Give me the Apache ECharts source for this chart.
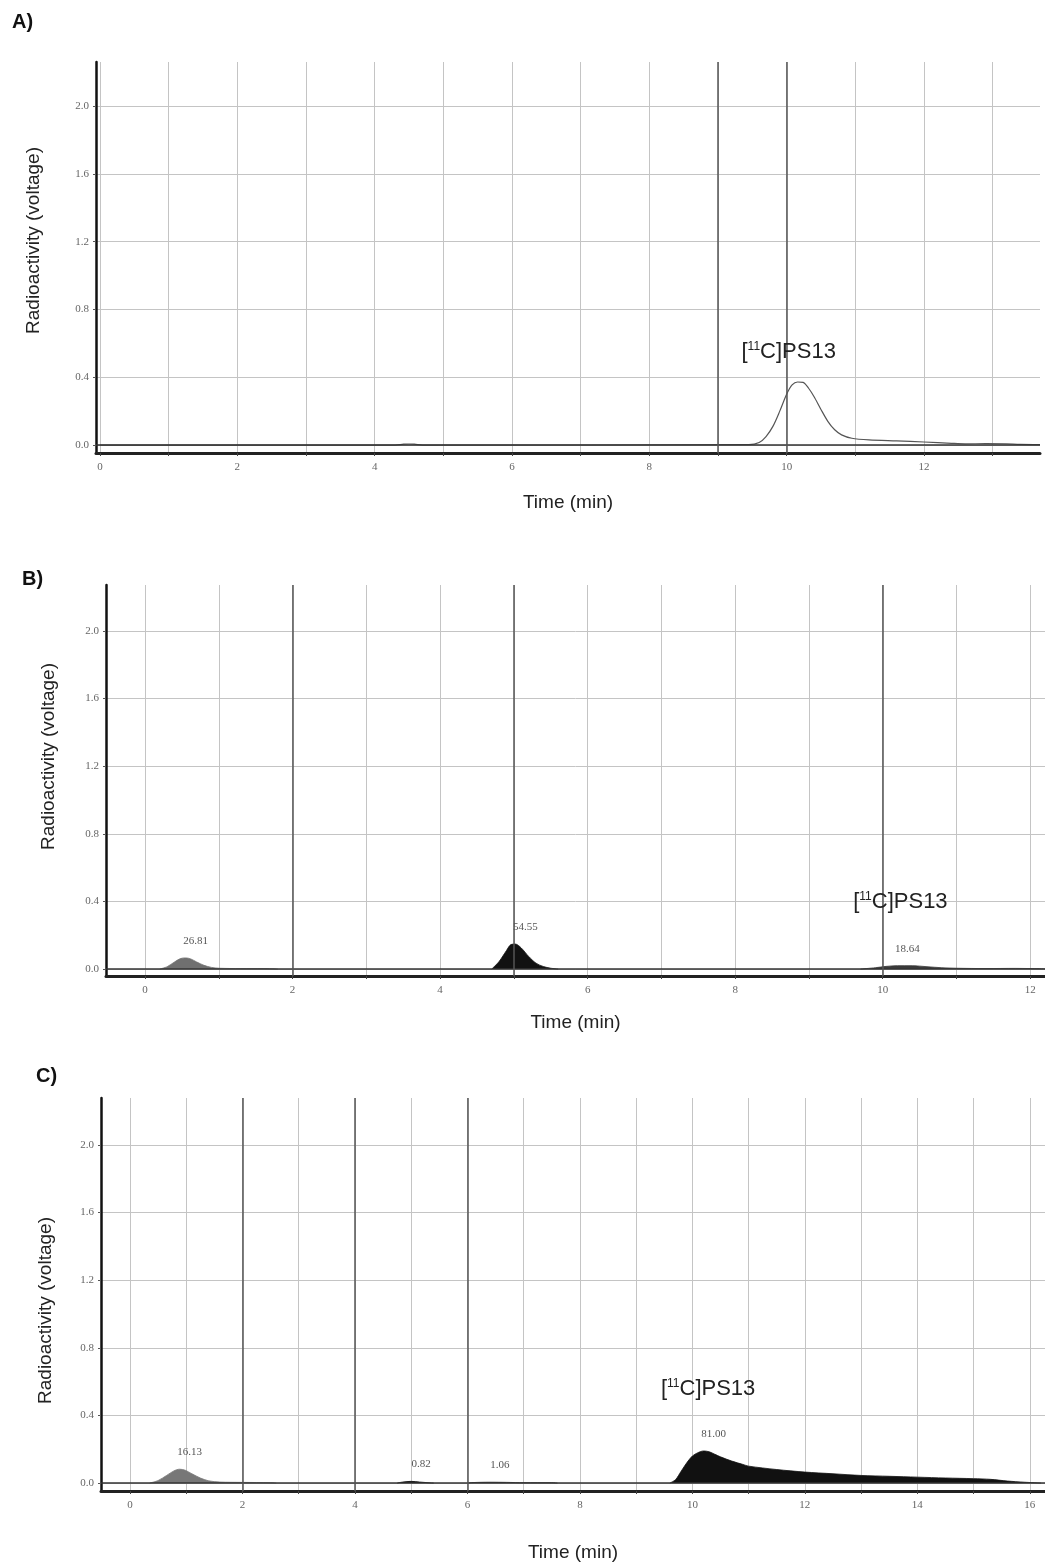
<!DOCTYPE html>
<html>
<head>
<meta charset="utf-8">
<script src="https://cdn.jsdelivr.net/npm/echarts@6/dist/echarts.min.js"></script>
<style>
  html, body { margin: 0; padding: 0; background: #fff; }
  #chart { width: 1045px; height: 1567px; }
</style>
</head>
<body>
<div id="chart"></div>
<script>
// y ticks shared by all three chromatograms
const yTicks = [0, 0.4, 0.8, 1.2, 1.6, 2.0]

// A) reference standard trace
const timeA = [0, 4.3, 4.42, 4.5, 4.58, 4.7, 9.45, 9.6, 9.7, 9.8, 9.9, 10.0, 10.08, 10.16, 10.24, 10.32, 10.4, 10.5, 10.6, 10.7, 10.8, 10.95, 11.2, 11.6, 12.0, 12.4, 12.6, 12.9, 13.2, 13.4, 13.69]
const sigA = [0, 0, 0.005, 0.006, 0.005, 0, 0.002, 0.015, 0.05, 0.11, 0.2, 0.3, 0.355, 0.372, 0.37, 0.335, 0.285, 0.21, 0.14, 0.09, 0.06, 0.04, 0.03, 0.024, 0.018, 0.01, 0.007, 0.008, 0.007, 0.004, 0.003]
const xTicksA = [0, 1, 2, 3, 4, 5, 6, 7, 8, 9, 10, 11, 12, 13]
const xLabelsA = [0, 2, 4, 6, 8, 10, 12]
const markersA = [9, 10]

// B) peaks
const timeB1 = [0.2, 0.3, 0.4, 0.48, 0.55, 0.62, 0.7, 0.8, 0.9, 1.0, 1.3, 1.6, 1.8]
const sigB1 = [0, 0.014, 0.042, 0.062, 0.066, 0.06, 0.042, 0.022, 0.01, 0.005, 0.003, 0.003, 0]
const timeB2 = [4.7, 4.8, 4.9, 4.96, 5.02, 5.1, 5.2, 5.3, 5.4, 5.5, 5.6]
const sigB2 = [0, 0.045, 0.11, 0.145, 0.148, 0.125, 0.075, 0.035, 0.015, 0.005, 0]
const timeB3 = [9.7, 9.9, 10.05, 10.2, 10.4, 10.6, 10.8, 11.0, 11.4, 11.8, 12.0, 12.2]
const sigB3 = [0, 0.008, 0.016, 0.02, 0.02, 0.014, 0.008, 0.005, 0.003, 0.004, 0.003, 0.002]
const areasB = ['26.81', '54.55', '18.64']
const xTicksB = [0, 1, 2, 3, 4, 5, 6, 7, 8, 9, 10, 11, 12]
const xLabelsB = [0, 2, 4, 6, 8, 10, 12]
const markersB = [2, 5, 10]

// C) peaks
const timeC1 = [0.35, 0.5, 0.65, 0.78, 0.88, 0.98, 1.1, 1.25, 1.4, 1.6, 2.0, 2.5, 2.6]
const sigC1 = [0, 0.015, 0.045, 0.072, 0.082, 0.076, 0.055, 0.03, 0.013, 0.006, 0.004, 0.002, 0]
const timeC2 = [4.75, 4.85, 5.0, 5.15, 5.3, 5.4]
const sigC2 = [0, 0.006, 0.01, 0.006, 0.002, 0]
const timeC3 = [6.0, 6.1, 6.4, 6.7, 7.0, 7.5, 7.6]
const sigC3 = [0, 0.003, 0.005, 0.004, 0.002, 0.002, 0]
const timeC4 = [9.6, 9.7, 9.8, 9.9, 10.0, 10.1, 10.2, 10.3, 10.4, 10.5, 10.7, 10.9, 11.0, 11.5, 12.0, 12.5, 13.0, 13.5, 14.0, 14.5, 15.0, 15.3, 15.6, 15.9, 16.2]
const sigC4 = [0, 0.02, 0.07, 0.12, 0.16, 0.18, 0.19, 0.185, 0.17, 0.155, 0.13, 0.11, 0.1, 0.08, 0.065, 0.055, 0.045, 0.04, 0.035, 0.03, 0.026, 0.022, 0.012, 0.005, 0]
const areasC = ['16.13', '0.82', '1.06', '81.00']
const xTicksC = [0, 1, 2, 3, 4, 5, 6, 7, 8, 9, 10, 11, 12, 13, 14, 15, 16]
const xLabelsC = [0, 2, 4, 6, 8, 10, 12, 14, 16]
const markersC = [2, 4, 6]

// compound label anchor (time, signal) per panel
const compoundAt = [[10.03, 0.55], [10.24, 0.40], [10.28, 0.556]]

const panelTitles = ['A)', 'B)', 'C)']

const chart = echarts.init(document.getElementById('chart'))

const pairs = (t, v) => t.map((x, i) => [x, v[i]])

const tickFont = { fontFamily: 'Liberation Serif', fontSize: 11, color: '#666' }

const makeX = (idx, min, max, ticks, labels, gap) => ({
  type: 'value', gridIndex: idx, min, max,
  name: 'Time (min)', nameLocation: 'middle', nameGap: gap,
  nameTextStyle: { fontFamily: 'Liberation Sans', fontSize: 19, color: '#222' },
  axisLine: { onZero: false, lineStyle: { color: '#222', width: 3 } },
  axisTick: { show: true, customValues: ticks, length: 3, lineStyle: { color: '#444' } },
  axisLabel: { customValues: labels, margin: 9, ...tickFont },
  splitLine: { show: true, lineStyle: { color: '#c4c4c4', width: 1 } }
})

const makeY = (idx, min, max, gap, shift) => ({
  type: 'value', gridIndex: idx, min, max,
  name: 'Radioactivity (voltage)', nameLocation: 'middle', nameGap: gap,
  nameTextStyle: { fontFamily: 'Liberation Sans', fontSize: 19, color: '#222', padding: shift },
  axisLine: { onZero: false, lineStyle: { color: '#111', width: 2.5 } },
  axisTick: { show: true, customValues: yTicks, length: 3, lineStyle: { color: '#555' } },
  axisLabel: { customValues: yTicks, margin: 7, formatter: v => v.toFixed(1), ...tickFont },
  splitLine: { show: true, lineStyle: { color: '#c4c4c4', width: 1 } }
})

// baseline at zero plus dark integration markers
const guides = (idx, markers) => ({
  type: 'line', xAxisIndex: idx, yAxisIndex: idx, data: [], silent: true,
  markLine: {
    silent: true, symbol: 'none', label: { show: false },
    data: [
      { yAxis: 0, lineStyle: { color: '#333', width: 1.5, type: 'solid' } },
      ...markers.map(m => ({ xAxis: m, lineStyle: { color: '#555', width: 1.5, type: 'solid' } }))
    ]
  }
})

const peak = (idx, t, v, color, area) => {
  const top = v.indexOf(Math.max(...v))
  return {
    type: 'line', xAxisIndex: idx, yAxisIndex: idx,
    data: pairs(t, v), symbol: 'none', smooth: 0.3, silent: true,
    lineStyle: { color, width: 0.8 },
    areaStyle: { color, opacity: 1 },
    markPoint: {
      symbol: 'rect', symbolSize: 1, itemStyle: { color: 'transparent' }, silent: true,
      label: { show: true, position: 'inside', offset: [10, -17], formatter: area, ...tickFont, color: '#555' },
      data: [{ coord: [t[top], v[top]] }]
    }
  }
}

const compound = (idx) => ({
  type: 'line', xAxisIndex: idx, yAxisIndex: idx, data: [], silent: true,
  markPoint: {
    symbol: 'rect', symbolSize: 1, itemStyle: { color: 'transparent' }, silent: true,
    label: {
      show: true, position: 'inside', formatter: '[{sup|11}C]PS13',
      fontFamily: 'Liberation Sans', fontSize: 22, color: '#222',
      rich: { sup: { fontFamily: 'Liberation Sans', fontSize: 12, color: '#222', padding: [0, 0, 10, 0] } }
    },
    data: [{ coord: compoundAt[idx] }]
  }
})

const option = {
  backgroundColor: '#fff',
  animation: false,
  title: panelTitles.map((text, i) => ({
    text,
    left: [7, 17, 31][i], top: [7, 564, 1061][i],
    textStyle: { fontFamily: 'Liberation Sans', fontSize: 20, fontWeight: 'bold', color: '#111' }
  })),
  grid: [
    { left: 96, top: 62, width: 944, height: 391 },
    { left: 106, top: 585, width: 939, height: 391 },
    { left: 101, top: 1098, width: 944, height: 393 }
  ],
  xAxis: [
    makeX(0, -0.058, 13.69, xTicksA, xLabelsA, 40),
    makeX(1, -0.529, 12.2, xTicksB, xLabelsB, 37),
    makeX(2, -0.516, 16.27, xTicksC, xLabelsC, 52)
  ],
  yAxis: [
    makeY(0, -0.047, 2.26, 53, [0, 0, 0, 34]),
    makeY(1, -0.041, 2.272, 48, [0, 0, 0, 48]),
    makeY(2, -0.047, 2.278, 46, [0, 32, 0, 0])
  ],
  series: [
    guides(0, markersA),
    guides(1, markersB),
    guides(2, markersC),
    {
      type: 'line', xAxisIndex: 0, yAxisIndex: 0,
      data: pairs(timeA, sigA), symbol: 'none', smooth: 0.3, silent: true,
      lineStyle: { color: '#555', width: 1.2 }
    },
    peak(1, timeB1, sigB1, '#707070', areasB[0]),
    peak(1, timeB2, sigB2, '#111', areasB[1]),
    peak(1, timeB3, sigB3, '#3a3a3a', areasB[2]),
    peak(2, timeC1, sigC1, '#777', areasC[0]),
    peak(2, timeC2, sigC2, '#111', areasC[1]),
    peak(2, timeC3, sigC3, '#222', areasC[2]),
    peak(2, timeC4, sigC4, '#111', areasC[3]),
    compound(0),
    compound(1),
    compound(2)
  ]
}

chart.setOption(option)
</script>
</body>
</html>
